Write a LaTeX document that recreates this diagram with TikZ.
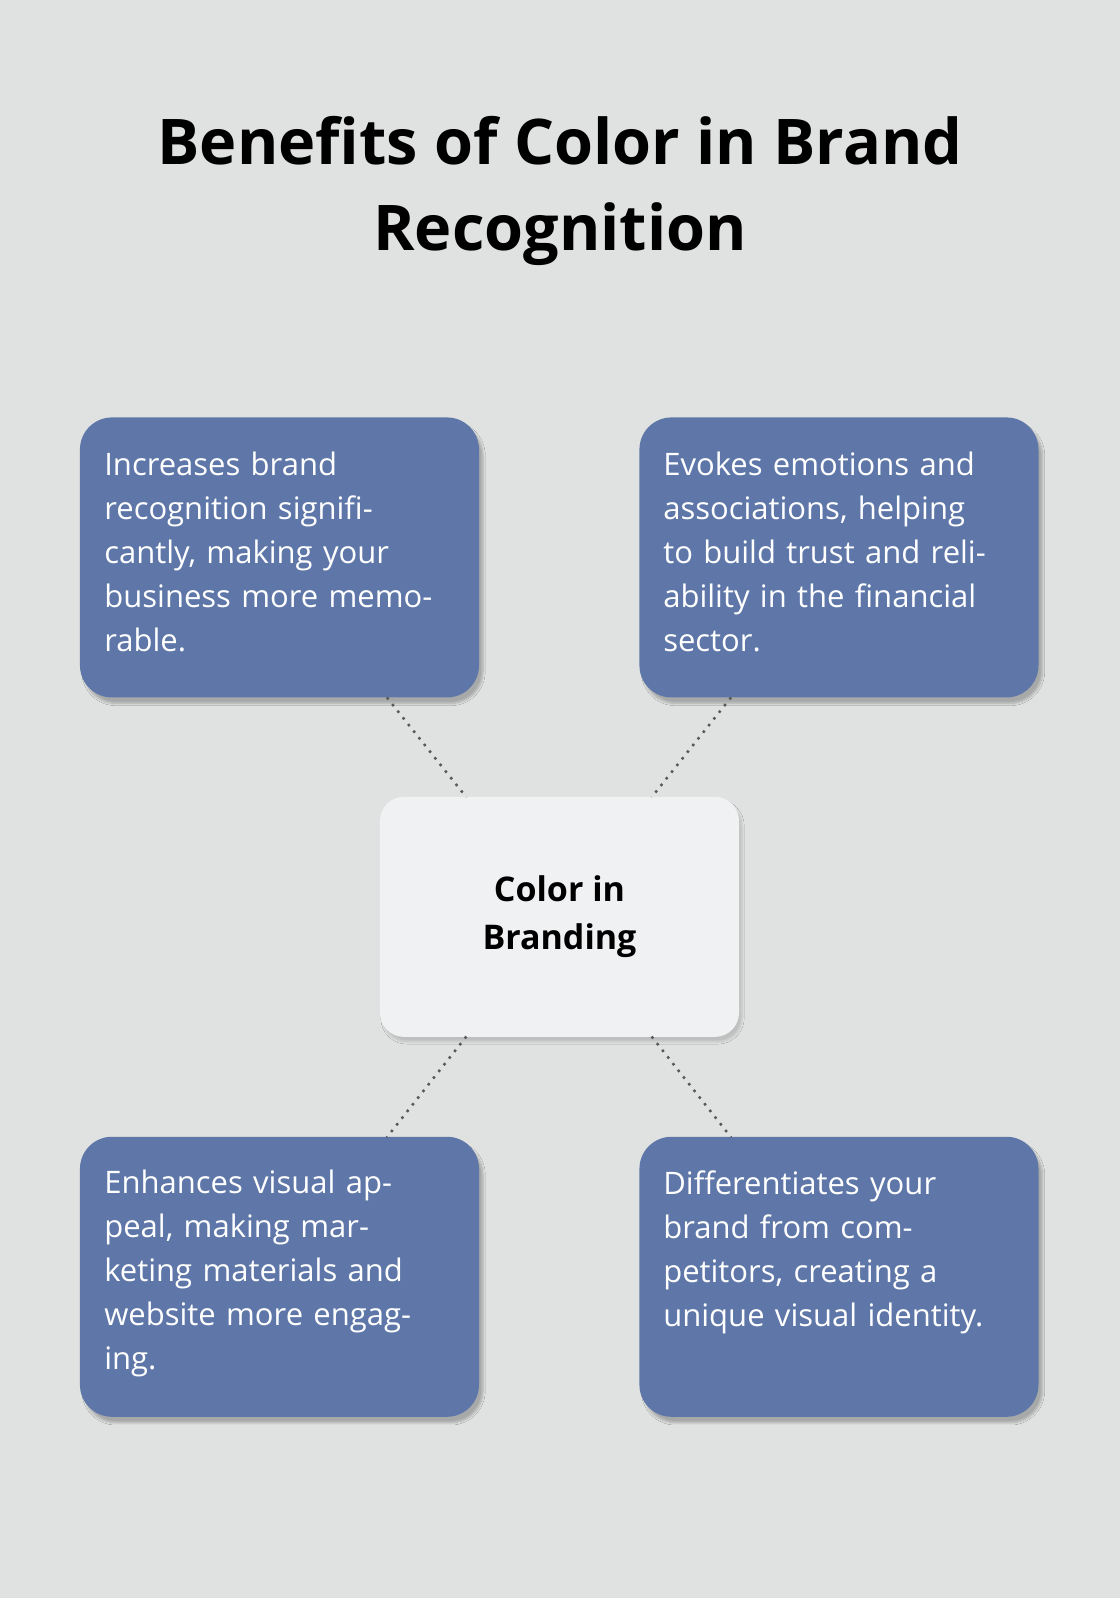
\documentclass[tikz,border=0pt]{standalone}
\usepackage{fontspec}
\setmainfont{Open Sans}
\usetikzlibrary{shadows.blur}
\definecolor{bg}{HTML}{E0E2E1}
\definecolor{boxc}{HTML}{5E77A8}
\definecolor{cen}{HTML}{F0F1F3}
\tikzset{
 card/.style={draw=none,fill=boxc,rounded corners=32pt,minimum width=399pt,minimum height=280pt,blur shadow={shadow blur steps=8,shadow xshift=4pt,shadow yshift=-6pt,shadow opacity=25}},
 cardtext/.style={text=white,font=\fontsize{31}{44}\selectfont,align=left,text width=330pt,anchor=north west},
 dots/.style={draw=black!65,line width=2.5pt,dash pattern=on 2.5pt off 6pt}
}
\begin{document}
\begin{tikzpicture}[x=1.018pt,y=-1.018pt]
\fill[bg] (0,0) rectangle (1100,1569.5);
\useasboundingbox (0,0) rectangle (1100,1569.5);
\node[font=\bfseries\fontsize{63}{86}\selectfont,align=center] (title) at (550,188) {Benefits of Color in Brand\\Recognition};
\node[card] (tl) at (274.5,547.5) {};
\node[card] (tr) at (824,547.5) {};
\node[card] (bl) at (274.5,1254) {};
\node[card] (br) at (824,1254) {};
\node[fill=cen,rounded corners=24pt,minimum width=359pt,minimum height=240pt,blur shadow={shadow blur steps=8,shadow xshift=3pt,shadow yshift=-5pt,shadow opacity=15}] (c) at (549.5,900.5) {};
\node[font=\bfseries\fontsize{34}{48}\selectfont,align=center] (ct) at (c) {Color in\\Branding};
\node[cardtext] (t1) at (99,440) {Increases brand recognition significantly, making your business more memorable.};
\node[cardtext] (t2) at (648,440) {Evokes emotions and associations, helping to build trust and reliability in the financial sector.};
\node[cardtext] (t3) at (99,1146) {Enhances visual appeal, making marketing materials and website more engaging.};
\node[cardtext] (t4) at (648,1146) {Differentiates your brand from competitors, creating a unique visual identity.};
\coordinate (a1) at (380,685); \coordinate (a2) at (458,783);
\coordinate (b1) at (718,685); \coordinate (b2) at (640,783);
\coordinate (c1) at (458,1018); \coordinate (c2) at (380,1117);
\coordinate (d1) at (640,1018); \coordinate (d2) at (718,1117);
\draw[dots] (a1)--(a2); \draw[dots] (b1)--(b2);
\draw[dots] (c1)--(c2); \draw[dots] (d1)--(d2);
\end{tikzpicture}
\end{document}
